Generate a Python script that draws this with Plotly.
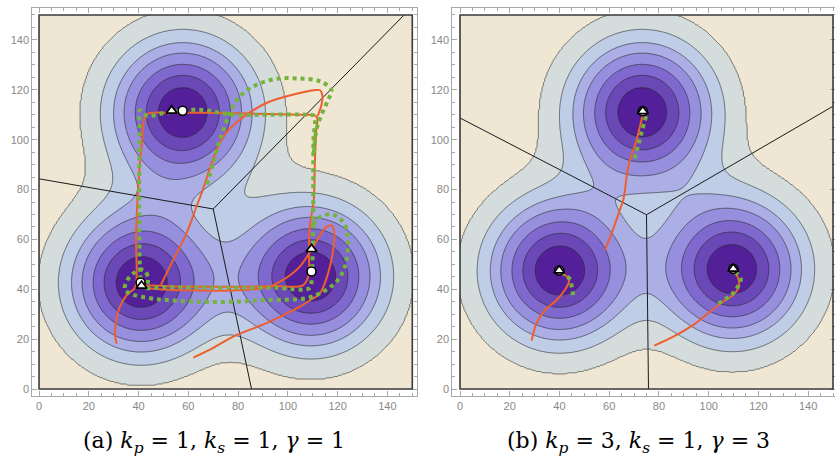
import numpy as np
import plotly.graph_objects as go

# ---------------- data ----------------
contour_radii = [9.7, 14.6, 19.0, 23.5, 27.7, 33.0, 41.0]
kernel_sigma_a = 20.5
kernel_sigma_b = 19.6
band_colors = ['#53209A', '#6A48B6', '#8069CE', '#968FDD', '#ABAFE6',
               '#BFCDE7', '#D4DDDC', '#EFE6D4']

peaks_a_x = [57.8, 40.8, 109.5]
peaks_a_y = [111.2, 42.6, 45.1]
peaks_b_x = [73.3, 39.9, 109.6]
peaks_b_y = [111.2, 47.4, 48.0]

tick_vals = [0, 20, 40, 60, 80, 100, 120, 140]

# Voronoi lines
vor_a = [([0, 70.0], [84.3, 72.2]), ([70.0, 146.7], [72.2, 150]), ([70.0, 85.4], [72.2, 0])]
vor_b = [([0, 75.0], [108.7, 69.9]), ([75.0, 150], [69.9, 113.4]), ([75.0, 75.8], [69.9, 0])]

# panel (a) trajectories
orange_a1_x = [31.2, 30.5, 31.0, 32.5, 35.5, 38.5, 39.2, 39.0, 39.5, 40.5, 41.5, 42.0, 43.5, 51.3, 65.0, 78.0, 92.0, 104.8, 111.5, 111.3, 110.8, 110.4, 108.8, 108.5, 108.2, 106.0, 95.0, 80.0, 65.0, 52.0, 44.0, 40.5]
orange_a1_y = [18.1, 22.4, 27.0, 33.0, 38.0, 40.5, 45.0, 60.0, 75.0, 90.0, 100.0, 107.0, 110.3, 110.8, 110.8, 110.6, 110.3, 110.0, 109.3, 102.7, 89.3, 75.9, 65.0, 55.0, 45.0, 41.6, 41.3, 41.0, 41.0, 41.2, 41.5, 41.0]
orange_a2_x = [49.0, 53.9, 59.3, 63.3, 65.5, 68.5, 71.4, 75.0, 80.7, 91.4, 104.8, 110.5, 112.9, 113.9, 113.5, 112.9, 112.0]
orange_a2_y = [41.8, 51.8, 62.5, 73.2, 79.0, 88.0, 96.0, 102.5, 108.0, 114.7, 118.7, 119.8, 119.8, 117.4, 114.0, 112.0, 109.5]
orange_a3_x = [62.0, 70.0, 78.0, 91.4, 100.0, 104.8, 109.5, 112.9, 116.2, 118.2, 118.6, 117.5, 115.5, 113.5, 110.2, 104.8, 98.1, 91.4, 78.0, 64.7, 51.3, 42.0]
orange_a3_y = [12.6, 16.5, 21.0, 26.4, 30.6, 33.0, 36.0, 38.4, 46.5, 55.8, 63.2, 65.6, 65.0, 62.5, 57.1, 49.1, 43.8, 40.8, 39.5, 39.5, 39.8, 40.5]

green_a1_x = [41.0, 40.5, 40.3, 40.3, 40.4, 40.6, 43.3, 51.3, 64.7, 78.0, 91.4, 107.5, 110.5, 110.3, 110.2, 110.2, 110.0, 109.5, 108.8, 95.0, 80.0, 65.0, 50.0, 41.9, 41.0]
green_a1_y = [43.0, 50.0, 70.0, 90.0, 105.0, 111.8, 109.6, 110.9, 112.0, 110.0, 110.0, 110.0, 109.5, 100.0, 85.0, 70.0, 55.0, 45.0, 40.5, 40.6, 40.6, 40.7, 40.8, 40.8, 43.0]
green_a2_x = [67.5, 70.0, 72.7, 76.7, 80.7, 87.4, 95.5, 104.8, 112.9, 117.5, 116.2, 113.5, 111.5, 110.5]
green_a2_y = [82.0, 90.6, 100.0, 110.7, 117.4, 122.0, 124.4, 124.5, 123.4, 120.0, 116.0, 110.0, 104.0, 95.0]
green_a3_x = [110.2, 112.9, 118.2, 122.9, 124.2, 122.9, 119.6, 114.2, 107.5, 91.4, 78.0, 64.7, 51.3, 44.6, 37.9, 34.5, 35.2, 38.0, 41.9, 43.9, 43.3]
green_a3_y = [65.9, 69.0, 69.9, 65.9, 58.5, 49.1, 43.1, 39.1, 36.4, 35.7, 35.0, 35.0, 35.7, 36.4, 37.8, 39.8, 43.1, 46.5, 47.8, 44.5, 41.8]

tri_a_x = [53.3, 41.2, 109.5]
tri_a_y = [111.6, 41.4, 56.1]
circ_a_x = [57.7, 40.8, 109.5]
circ_a_y = [111.6, 42.7, 47.1]

# panel (b) trajectories
orange_b1_x = [28.8, 30.8, 34.2, 38.9, 42.2, 43.8, 43.5, 41.5, 39.9]
orange_b1_y = [19.4, 26.4, 31.7, 35.7, 39.8, 43.1, 44.5, 46.2, 47.5]
orange_b2_x = [78.1, 85.8, 93.8, 100.5, 105.9, 109.9, 111.9, 112.3, 111.3, 109.9]
orange_b2_y = [17.4, 21.0, 25.7, 31.0, 35.1, 37.8, 40.4, 42.4, 45.8, 47.8]
orange_b3_x = [58.3, 61.0, 64.3, 65.7, 67.7, 71.0, 73.5]
orange_b3_y = [55.8, 62.5, 71.9, 76.0, 89.3, 100.0, 110.0]

green_b1_x = [40.5, 43.2, 44.4, 45.0, 45.6]
green_b1_y = [46.8, 45.2, 43.5, 40.5, 37.2]
green_b2_x = [110.5, 112.9, 111.5, 109.2, 106.1, 102.9]
green_b2_y = [47.0, 44.1, 40.7, 37.8, 35.7, 33.6]
green_b3_x = [74.8, 73.2, 71.6, 70.1]
green_b3_y = [109.4, 103.5, 97.5, 92.0]

tri_b_x = [73.5, 39.9, 109.9]
tri_b_y = [111.4, 47.5, 48.2]

captions = [
    "(a) <i>k</i><sub><i>p</i></sub> = 1, <i>k</i><sub><i>s</i></sub> = 1, <i>γ</i> = 1",
    "(b) <i>k</i><sub><i>p</i></sub> = 3, <i>k</i><sub><i>s</i></sub> = 1, <i>γ</i> = 3",
]

ORANGE = '#EE5E2E'
GREEN = '#72B43C'

# ---------------- field ----------------
grid = np.linspace(0, 150, 301)
GX, GY = np.meshgrid(grid, grid)


def field(px, py, sig):
    s = np.zeros_like(GX)
    for cx, cy in zip(px, py):
        s += np.exp(-((GX - cx) ** 2 + (GY - cy) ** 2) / (2 * sig ** 2))
    r = np.sqrt(np.clip(-2 * sig ** 2 * np.log(s), 0, None))
    return np.interp(r, [0] + contour_radii + [500], list(range(len(contour_radii) + 2)))


colorscale = [[k / 7, c] for k, c in enumerate(band_colors)]

fig = go.Figure()


def add_panel(idx, px, py, sig, vor, oranges, greens, tris, circs):
    xa = 'x' if idx == 1 else 'x2'
    ya = 'y' if idx == 1 else 'y2'
    fig.add_trace(go.Contour(
        x=grid, y=grid, z=field(px, py, sig), xaxis=xa, yaxis=ya,
        contours=dict(start=1, end=7, size=1, coloring='fill'),
        colorscale=colorscale, showscale=False,
        line=dict(color='rgba(35,35,35,0.6)', width=1, smoothing=0),
        hoverinfo='skip'))
    for vx, vy in vor:
        fig.add_trace(go.Scatter(x=vx, y=vy, xaxis=xa, yaxis=ya, mode='lines',
                                 line=dict(color='#1a1a1a', width=1), showlegend=False))
    for ox, oy in oranges:
        fig.add_trace(go.Scatter(x=ox, y=oy, xaxis=xa, yaxis=ya, mode='lines',
                                 line=dict(color=ORANGE, width=2, shape='spline'), showlegend=False))
    for gx, gy in greens:
        fig.add_trace(go.Scatter(x=gx, y=gy, xaxis=xa, yaxis=ya, mode='lines',
                                 line=dict(color=GREEN, width=4, dash='dot', shape='spline'),
                                 showlegend=False))
    cx, cy = circs
    fig.add_trace(go.Scatter(x=cx, y=cy, xaxis=xa, yaxis=ya, mode='markers',
                             marker=dict(symbol='circle', size=9, color='white',
                                         line=dict(color='black', width=1.6)), showlegend=False))
    tx, ty = tris
    fig.add_trace(go.Scatter(x=tx, y=ty, xaxis=xa, yaxis=ya, mode='markers',
                             marker=dict(symbol='triangle-up', size=9.5, color='white',
                                         line=dict(color='black', width=1.7)), showlegend=False))


add_panel(1, peaks_a_x, peaks_a_y, kernel_sigma_a, vor_a,
          [(orange_a1_x, orange_a1_y), (orange_a2_x, orange_a2_y), (orange_a3_x, orange_a3_y)],
          [(green_a1_x, green_a1_y), (green_a2_x, green_a2_y), (green_a3_x, green_a3_y)],
          (tri_a_x, tri_a_y), (circ_a_x, circ_a_y))
add_panel(2, peaks_b_x, peaks_b_y, kernel_sigma_b, vor_b,
          [(orange_b1_x, orange_b1_y), (orange_b2_x, orange_b2_y), (orange_b3_x, orange_b3_y)],
          [(green_b1_x, green_b1_y), (green_b2_x, green_b2_y), (green_b3_x, green_b3_y)],
          (tri_b_x, tri_b_y), (tri_b_x, tri_b_y))

W, H = 835, 456


def axis_common():
    return dict(showline=True, linecolor='#a8a8a8', linewidth=1, mirror='ticks',
                ticks='inside', ticklen=5, tickwidth=1, tickcolor='#a8a8a8',
                tickmode='array', tickvals=tick_vals,
                minor=dict(dtick=5, tick0=0, ticks='inside', ticklen=3, tickcolor='#a8a8a8', tickwidth=1),
                showgrid=False, zeroline=False,
                tickfont=dict(family='Liberation Sans', size=11, color='#888888'))


fig.update_layout(
    width=W, height=H, margin=dict(l=0, r=0, t=0, b=0),
    paper_bgcolor='white', plot_bgcolor='white', showlegend=False,
    xaxis=dict(domain=[32.3 / W, 416.7 / W], range=[-2.7, 151.77], anchor='y', **axis_common()),
    yaxis=dict(domain=[(H - 396) / H, (H - 8) / H], range=[-2.8, 152.8], anchor='x', **axis_common()),
    xaxis2=dict(domain=[452.3 / W, 835 / W], range=[-3.1, 150.8], anchor='y2', **axis_common()),
    yaxis2=dict(domain=[(H - 396) / H, (H - 8) / H], range=[-2.8, 152.8], anchor='x2', **axis_common()),
)

for xr, yr in [('x', 'y'), ('x2', 'y2')]:
    fig.add_shape(type='rect', xref=xr, yref=yr, x0=0, x1=150, y0=0, y1=150,
                  line=dict(color='#3a3a3a', width=1.6), layer='above')

for txt, cxp in zip(captions, [214, 638]):
    fig.add_annotation(text=txt, xref='paper', yref='paper', x=cxp / W, y=(H - 442) / H,
                       showarrow=False, xanchor='center', yanchor='middle',
                       font=dict(family='DejaVu Serif', size=22, color='black'))

fig.write_html("out.html")
